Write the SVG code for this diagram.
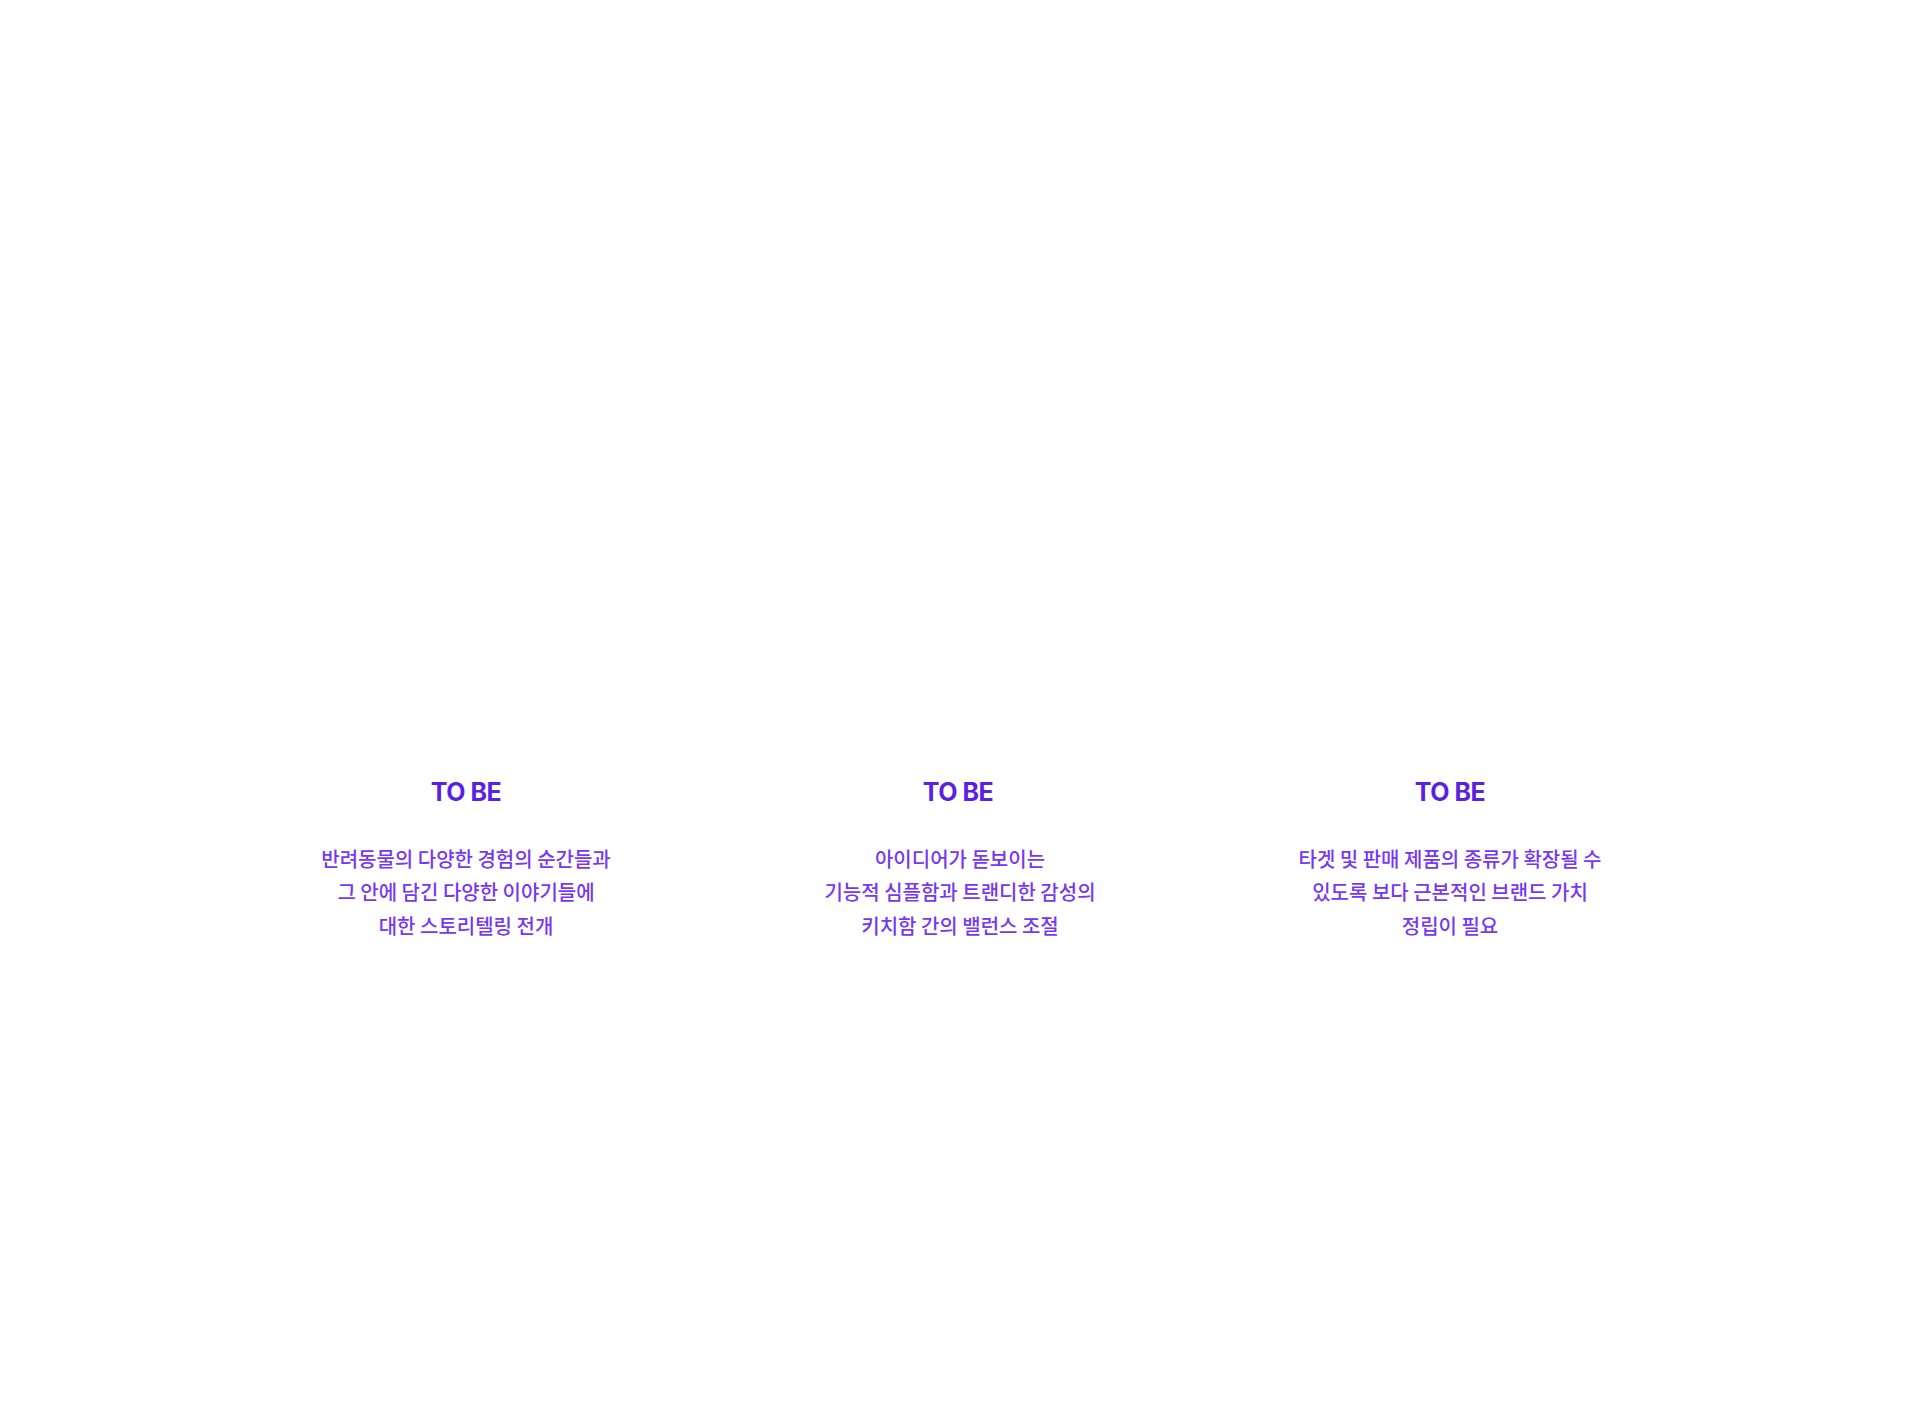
<svg xmlns="http://www.w3.org/2000/svg" width="1920" height="1427" viewBox="0 0 1920 1427">
<style>
.t{font-family:"Inter","Noto Sans",sans-serif;font-weight:700;font-size:25px;fill:#5a22e0;text-anchor:middle;letter-spacing:-0.5px}
.b{font-family:"Noto Sans CJK KR",sans-serif;font-weight:500;font-size:20px;fill:#7638f0;text-anchor:middle}
</style>
<rect width="1920" height="1427" fill="#fff"/>
<g id="col1"><text class="t" x="466" y="801">TO BE</text>
<text class="b" x="466" y="867">반려동물의 다양한 경험의 순간들과</text>
<text class="b" x="466" y="900">그 안에 담긴 다양한 이야기들에</text>
<text class="b" x="466" y="934">대한 스토리텔링 전개</text></g>
<g id="col2"><text class="t" x="958" y="801">TO BE</text>
<text class="b" x="960" y="867">아이디어가 돋보이는</text>
<text class="b" x="960" y="900">기능적 심플함과 트랜디한 감성의</text>
<text class="b" x="960" y="934">키치함 간의 밸런스 조절</text></g>
<g id="col3"><text class="t" x="1450" y="801">TO BE</text>
<text class="b" x="1450" y="867">타겟 및 판매 제품의 종류가 확장될 수</text>
<text class="b" x="1450" y="900">있도록 보다 근본적인 브랜드 가치</text>
<text class="b" x="1450" y="934">정립이 필요</text></g>
<g id="connectors"/>
</svg>
